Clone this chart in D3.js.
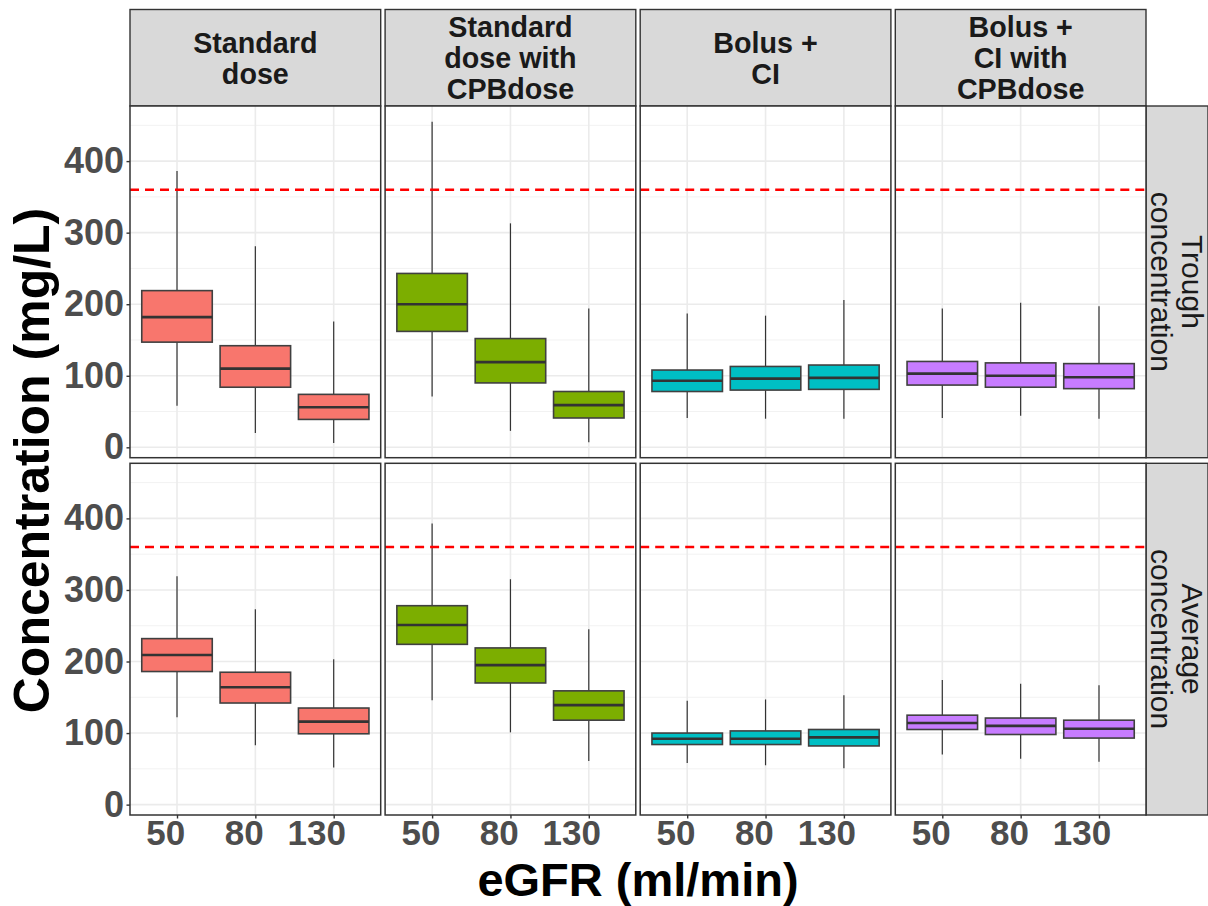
<!DOCTYPE html>
<html>
<head>
<meta charset="utf-8">
<script src="https://cdn.jsdelivr.net/npm/d3@7"></script>
<style>
  html, body { margin: 0; padding: 0; background: #ffffff; }
  svg { display: block; font-family: "Liberation Sans", Arial, sans-serif; }
</style>
</head>
<body>
<svg id="chart" width="1208" height="906"></svg>
<script>
// ---------------- DATA ----------------
const eGFR = ["50", "80", "130"];
const regimes = [
  "Standard\ndose",
  "Standard\ndose with\nCPBdose",
  "Bolus +\nCI",
  "Bolus +\nCI with\nCPBdose"
];
const concentrationTypes = ["Trough\nconcentration", "Average\nconcentration"];
const regimeColors = ["#F8766D", "#7CAE00", "#00BFC4", "#C77CFF"];
const yTickValues = [0, 100, 200, 300, 400];
const threshold = 360;

// each entry: [lower whisker, Q1, median, Q3, upper whisker] for eGFR 50, 80, 130
const troughStandard    = [[58, 147, 182, 219, 386], [20, 84, 110, 142, 281], [6, 39, 56, 74, 176]];
const troughStandardCPB = [[71, 162, 200, 243, 455], [23, 90, 119, 152, 313], [7, 41, 59, 78, 194]];
const troughBolusCI     = [[41, 78, 93, 108, 187], [40, 80, 96, 113, 184], [40, 81, 97, 115, 206]];
const troughBolusCICPB  = [[41, 87, 103, 120, 194], [44, 84, 100, 118, 202], [40, 82, 98, 117, 197]];

const averageStandard    = [[122, 186, 209, 232, 319], [83, 142, 164, 185, 273], [52, 99, 116, 135, 203]];
const averageStandardCPB = [[146, 224, 251, 278, 393], [101, 170, 195, 219, 315], [61, 118, 139, 159, 245]];
const averageBolusCI     = [[58, 84, 92, 100, 145], [55, 84, 92, 103, 147], [51, 82, 94, 105, 153]];
const averageBolusCICPB  = [[70, 105, 114, 125, 174], [64, 98, 110, 121, 169], [60, 93, 106, 118, 167]];

const panelData = [
  [troughStandard, troughStandardCPB, troughBolusCI, troughBolusCICPB],
  [averageStandard, averageStandardCPB, averageBolusCI, averageBolusCICPB]
];

// ---------------- LAYOUT ----------------
const svg = d3.select("#chart");
const x0 = 130, pw = 250.7, gapX = 4.4;
const stripTop = 9.5, stripBottom = 106;
const ph = 351.7, gapY = 5.6;
const rightStripW = 62;
const colX = regimes.map((_, i) => x0 + i * (pw + gapX));
const rowY = concentrationTypes.map((_, i) => stripBottom + i * (ph + gapY));
const panelsRight = colX[colX.length - 1] + pw;

const x = d3.scalePoint().domain(eGFR).range([0, pw]).padding(0.6);
const step = x.step();
const boxW = step * 0.9;
const yDomain = [-14.5, 477];

const dark = "#333333";

function multiline(g, label, cx, cy, size, weight, lineGap, capRatio) {
  const lines = label.split("\n");
  const cap = size * capRatio;
  const block = cap + (lines.length - 1) * lineGap;
  const first = cy - block / 2 + cap;
  const t = g.append("text")
    .attr("text-anchor", "middle")
    .attr("font-size", size)
    .attr("font-weight", weight)
    .attr("fill", "#1A1A1A");
  lines.forEach((ln, i) => {
    t.append("tspan").attr("x", cx).attr("y", first + i * lineGap).text(ln);
  });
}

// top strips
regimes.forEach((r, ci) => {
  const g = svg.append("g");
  g.append("rect")
    .attr("x", colX[ci]).attr("y", stripTop)
    .attr("width", pw).attr("height", stripBottom - stripTop)
    .attr("fill", "#D9D9D9").attr("stroke", dark).attr("stroke-width", 1.4);
  multiline(g, r, colX[ci] + pw / 2, (stripTop + stripBottom) / 2, 28.7, "bold", 31, 0.716);
});

// right strips
concentrationTypes.forEach((c, ri) => {
  const g = svg.append("g");
  g.append("rect")
    .attr("x", panelsRight).attr("y", rowY[ri])
    .attr("width", rightStripW).attr("height", ph)
    .attr("fill", "#D9D9D9").attr("stroke", dark).attr("stroke-width", 1.4);
  const cx = panelsRight + rightStripW / 2, cy = rowY[ri] + ph / 2;
  const gr = g.append("g").attr("transform", `translate(${cx},${cy}) rotate(90)`);
  multiline(gr, c, 0, 0, 30, "normal", 31, 0.716);
});

// panels
concentrationTypes.forEach((c, ri) => {
  const y = d3.scaleLinear().domain(yDomain).range([rowY[ri] + ph, rowY[ri]]);
  const minorTicks = d3.range(50, 500, 100);
  regimes.forEach((r, ci) => {
    const g = svg.append("g").attr("transform", `translate(${colX[ci]},0)`);
    g.append("rect").attr("x", 0).attr("y", rowY[ri]).attr("width", pw).attr("height", ph).attr("fill", "#ffffff");
    // minor grid
    g.selectAll(".minor").data(minorTicks.filter(v => v < yDomain[1])).enter().append("line")
      .attr("x1", 0).attr("x2", pw).attr("y1", d => y(d)).attr("y2", d => y(d))
      .attr("stroke", "#F2F2F2").attr("stroke-width", 1);
    // major grid
    g.selectAll(".majorY").data(yTickValues).enter().append("line")
      .attr("x1", 0).attr("x2", pw).attr("y1", d => y(d)).attr("y2", d => y(d))
      .attr("stroke", "#EBEBEB").attr("stroke-width", 1.6);
    g.selectAll(".majorX").data(eGFR).enter().append("line")
      .attr("x1", d => x(d)).attr("x2", d => x(d)).attr("y1", rowY[ri]).attr("y2", rowY[ri] + ph)
      .attr("stroke", "#EBEBEB").attr("stroke-width", 1.6);

    const stats = panelData[ri][ci];
    eGFR.forEach((e, k) => {
      const [lo, q1, med, q3, hi] = stats[k];
      const cx = x(e);
      g.append("line").attr("x1", cx).attr("x2", cx).attr("y1", y(hi)).attr("y2", y(q3))
        .attr("stroke", dark).attr("stroke-width", 1.2);
      g.append("line").attr("x1", cx).attr("x2", cx).attr("y1", y(q1)).attr("y2", y(lo))
        .attr("stroke", dark).attr("stroke-width", 1.2);
      g.append("rect")
        .attr("x", cx - boxW / 2).attr("y", y(q3))
        .attr("width", boxW).attr("height", y(q1) - y(q3))
        .attr("fill", regimeColors[ci]).attr("stroke", "#404040").attr("stroke-width", 1.6);
      g.append("line").attr("x1", cx - boxW / 2).attr("x2", cx + boxW / 2)
        .attr("y1", y(med)).attr("y2", y(med))
        .attr("stroke", dark).attr("stroke-width", 2.6);
    });

    // threshold line
    g.append("line").attr("x1", 0).attr("x2", pw).attr("y1", y(threshold)).attr("y2", y(threshold))
      .attr("stroke", "#FF0000").attr("stroke-width", 2.4).attr("stroke-dasharray", "9,6");

    // border
    g.append("rect").attr("x", 0).attr("y", rowY[ri]).attr("width", pw).attr("height", ph)
      .attr("fill", "none").attr("stroke", dark).attr("stroke-width", 1.5);

    // y axis
    if (ci === 0) {
      const ax = g.append("g").call(d3.axisLeft(y).tickValues(yTickValues).tickSize(3.5).tickPadding(2.5));
      ax.select(".domain").remove();
      ax.selectAll(".tick line").attr("stroke", dark).attr("stroke-width", 1.4);
      ax.selectAll(".tick text").attr("font-size", 36).attr("font-weight", "bold")
        .attr("fill", "#4D4D4D").attr("font-family", "Liberation Sans, Arial, sans-serif");
    }
    // x axis
    if (ri === concentrationTypes.length - 1) {
      const ax = g.append("g").attr("transform", `translate(0,${rowY[ri] + ph})`)
        .call(d3.axisBottom(x).tickSize(3.5).tickPadding(2));
      ax.select(".domain").remove();
      ax.selectAll(".tick line").attr("stroke", dark).attr("stroke-width", 1.4);
      ax.selectAll(".tick text").attr("font-size", 35).attr("font-weight", "bold")
        .attr("fill", "#4D4D4D").attr("font-family", "Liberation Sans, Arial, sans-serif")
        .each(function () {
          const w = this.getComputedTextLength();
          d3.select(this).attr("x", -0.3 * w);
        });
    }
  });
});

// axis titles
svg.append("text")
  .attr("x", (x0 + panelsRight) / 2).attr("y", 895.5)
  .attr("text-anchor", "middle").attr("font-size", 47).attr("font-weight", "bold").attr("fill", "#000")
  .text("eGFR (ml/min)");
svg.append("text")
  .attr("transform", `translate(49,${stripBottom + (ph * 2 + gapY) / 2}) rotate(-90)`)
  .attr("text-anchor", "middle").attr("font-size", 50).attr("font-weight", "bold").attr("fill", "#000")
  .text("Concentration (mg/L)");
</script>
</body>
</html>
